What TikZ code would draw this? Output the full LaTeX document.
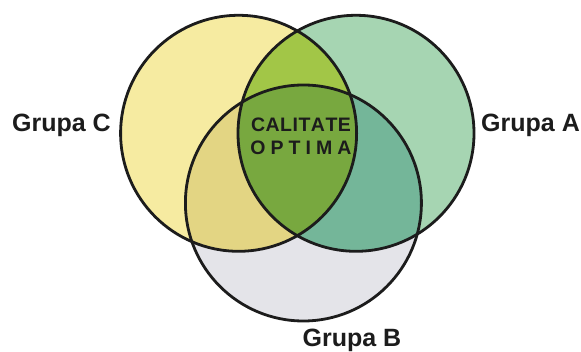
\documentclass[tikz,border=0pt]{standalone}
\usepackage{fontspec}
\setmainfont{Liberation Sans}
\definecolor{cOnly}{HTML}{F6EBA1}
\definecolor{aOnly}{HTML}{A6D5B2}
\definecolor{bOnly}{HTML}{E4E4E9}
\definecolor{cA}{HTML}{A2C647}
\definecolor{cB}{HTML}{E3D583}
\definecolor{aB}{HTML}{74B699}
\definecolor{aBC}{HTML}{78A83F}
\definecolor{edge}{HTML}{1C1C1C}
\begin{document}
\begin{tikzpicture}[x=1pt,y=1pt,
  ring/.style={draw=edge,line width=2.8pt},
  grp/.style={font=\fontsize{25}{25}\selectfont\bfseries,text=edge,inner sep=0pt},
  core/.style={font=\fontsize{19.5}{19.5}\selectfont\bfseries,text=edge,inner sep=0pt}]
\useasboundingbox (0,0) rectangle (581,-352);
\def\R{118}
\coordinate (cc) at (238.6,-133.3);
\coordinate (ca) at (356,-133.3);
\coordinate (cb) at (303.4,-203);
\fill[cOnly] (cc) circle (\R);
\fill[aOnly] (ca) circle (\R);
\fill[bOnly] (cb) circle (\R);
\begin{scope}\clip (cc) circle (\R); \fill[cA] (ca) circle (\R); \fill[cB] (cb) circle (\R);\end{scope}
\begin{scope}\clip (ca) circle (\R); \fill[aB] (cb) circle (\R);\end{scope}
\begin{scope}\clip (cc) circle (\R); \clip (ca) circle (\R); \fill[aBC] (cb) circle (\R);\end{scope}
\draw[ring] (cc) circle (\R);
\draw[ring] (ca) circle (\R);
\draw[ring] (cb) circle (\R);
\node[grp,anchor=east] (gc) at (111,-125) {Grupa C};
\node[grp,anchor=west] (ga) at (481,-125) {Grupa A};
\node[grp] (gb) at (352,-340) {Grupa B};
\node[core] (t1) at (301,-125) {C\kern0.5ptA\kern0.5ptL\kern0.5ptI\kern0.5ptT\kern0.5ptA\kern0.5ptT\kern0.5ptE};
\node[core] (t2) at (301,-148) {O\hspace{0.26em}P\hspace{0.26em}T\hspace{0.26em}I\hspace{0.26em}M\hspace{0.26em}A};
\end{tikzpicture}
\end{document}
